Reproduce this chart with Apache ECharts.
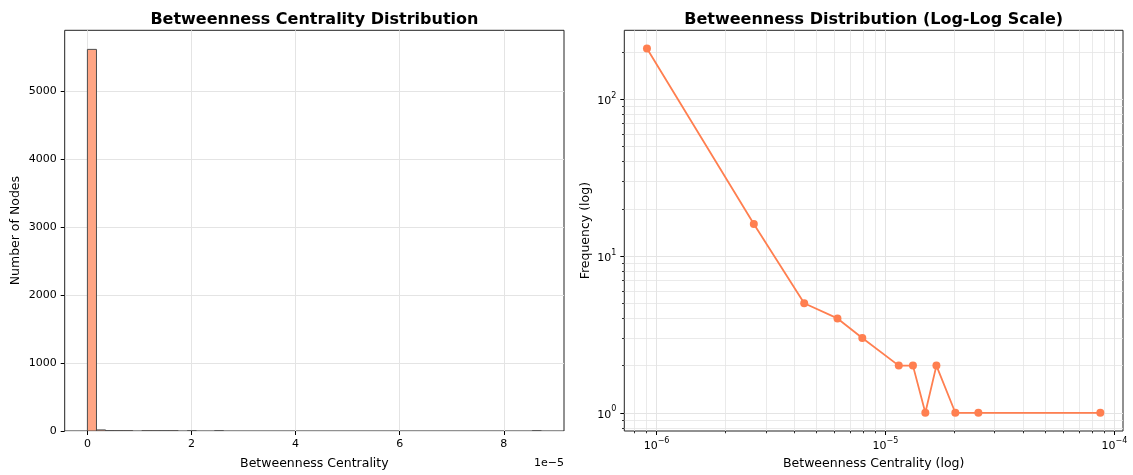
<!DOCTYPE html>
<html>
<head>
<meta charset="utf-8">
<script src="https://cdn.jsdelivr.net/npm/echarts@6/dist/echarts.min.js"></script>
<style>html,body{margin:0;padding:0;background:#fff}#c{width:1133px;height:475px}</style>
</head>
<body>
<div id="c"></div>
<script>
// ---- Data ----
// Left: histogram of betweenness centrality (50 equal bins over histRange)
const histCounts = [5620, 16, 5, 4, 3, 0, 2, 2, 1, 2,
                    0, 1, 0, 0, 1, 0, 0, 0, 0, 0,
                    0, 0, 0, 0, 0, 0, 0, 0, 0, 0,
                    0, 0, 0, 0, 0, 0, 0, 0, 0, 0,
                    0, 0, 0, 0, 0, 0, 0, 0, 0, 1];
const histRange = [0, 8.72e-5];
const histXTicks = [0, 2e-5, 4e-5, 6e-5, 8e-5];
const histYTicks = [0, 1000, 2000, 3000, 4000, 5000];

// Right: log-log distribution (bin centres / frequencies)
const logX = [9.08e-7, 2.66e-6, 4.415e-6, 6.17e-6, 7.92e-6, 1.143e-5, 1.318e-5, 1.493e-5, 1.669e-5, 2.019e-5, 2.545e-5, 8.68e-5];
const logY = [211, 16, 5, 4, 3, 2, 2, 1, 2, 1, 1, 1];
const logXMajor = [1e-6, 1e-5, 1e-4];
const logXMinor = [8e-7, 9e-7, 2e-6, 3e-6, 4e-6, 5e-6, 6e-6, 7e-6, 8e-6, 9e-6,
                   2e-5, 3e-5, 4e-5, 5e-5, 6e-5, 7e-5, 8e-5, 9e-5];
const logYMajor = [1, 10, 100];
const logYMinor = [0.8, 0.9, 2, 3, 4, 5, 6, 7, 8, 9, 20, 30, 40, 50, 60, 70, 80, 90, 200];

// ---- Derived ----
const SCALE = 1e5;
const FONT = 'DejaVu Sans';
const nBins = histCounts.length;
const binW = (histRange[1] - histRange[0]) / nBins;
const histData = histCounts
  .map((c, i) => [(histRange[0] + i * binW) * SCALE, (histRange[0] + (i + 1) * binW) * SCALE, c])
  .filter(d => d[2] > 0);
const hx0 = histRange[0] * SCALE, hx1 = histRange[1] * SCALE;
const hxm = 0.05 * (hx1 - hx0);
const hyMax = Math.max(...histCounts) * 1.05;

const lx0 = Math.log10(Math.min(...logX)), lx1 = Math.log10(Math.max(...logX));
const lxm = 0.05 * (lx1 - lx0);
const ly0 = Math.log10(Math.min(...logY)), ly1 = Math.log10(Math.max(...logY));
const lym = 0.05 * (ly1 - ly0);

function powLabel(v) {
  const e = Math.round(Math.log10(v));
  return '{b|10}{s|' + String(e).replace('-', '\u2212') + '}';
}
const powRich = {
  b: {fontFamily: FONT, fontSize: 11, color: '#000', lineHeight: 15, verticalAlign: 'bottom'},
  s: {fontFamily: FONT, fontSize: 8, color: '#000', lineHeight: 9, verticalAlign: 'top'}
};

const GRID_COLOR = '#e4e4e4';
const tickStyle = {color: '#000', width: 1};
const labelStyle = {fontFamily: FONT, fontSize: 11, color: '#000'};
const nameStyle = {fontFamily: FONT, fontSize: 12.5, color: '#000'};
const titleStyle = {fontFamily: FONT, fontSize: 16, fontWeight: 'bold', color: '#000'};

const chart = echarts.init(document.getElementById('c'), null, {renderer: 'canvas'});
chart.setOption({
  animation: false,
  backgroundColor: '#fff',
  title: [
    {text: 'Betweenness Centrality Distribution', left: 314.4, top: 12, padding: 0, textAlign: 'center', textStyle: titleStyle},
    {text: 'Betweenness Distribution (Log-Log Scale)', left: 873.7, top: 12, padding: 0, textAlign: 'center', textStyle: titleStyle}
  ],
  grid: [
    {left: 64.7, right: 1133 - 564, top: 30.3, bottom: 475 - 435.3, show: true, borderColor: '#222', borderWidth: 1, backgroundColor: 'transparent'},
    {left: 624.3, right: 1133 - 1123, top: 30.3, bottom: 475 - 435.3, show: true, borderColor: '#222', borderWidth: 1, backgroundColor: 'transparent'}
  ],
  xAxis: [
    {gridIndex: 0, type: 'value', position: 'bottom', min: hx0 - hxm, max: hx1 + hxm,
     axisLine: {show: false, onZero: false},
     axisTick: {show: true, length: 4, lineStyle: tickStyle, customValues: histXTicks.map(v => v * SCALE)},
     axisLabel: Object.assign({customValues: histXTicks.map(v => v * SCALE), margin: 8,
       formatter: v => String(Math.round(v))}, labelStyle),
     splitLine: {show: true, lineStyle: {color: GRID_COLOR, width: 1}},
     name: 'Betweenness Centrality', nameLocation: 'middle', nameGap: 26, nameTextStyle: nameStyle},
    {gridIndex: 1, type: 'log', logBase: 10, position: 'bottom',
     min: Math.pow(10, lx0 - lxm), max: Math.pow(10, lx1 + lxm),
     axisLine: {show: false, onZero: false},
     axisTick: {show: true, length: 4, lineStyle: tickStyle, customValues: logXMajor},
     axisLabel: Object.assign({customValues: logXMajor, margin: 6, formatter: v => powLabel(v), rich: powRich}, labelStyle),
     splitLine: {show: true, lineStyle: {color: GRID_COLOR, width: 1}},
     name: 'Betweenness Centrality (log)', nameLocation: 'middle', nameGap: 26, nameTextStyle: nameStyle},
    {gridIndex: 1, type: 'log', logBase: 10, position: 'bottom',
     min: Math.pow(10, lx0 - lxm), max: Math.pow(10, lx1 + lxm),
     axisLine: {show: false, onZero: false},
     axisTick: {show: true, length: 2.3, lineStyle: {color: '#000', width: 0.8}, customValues: logXMinor},
     axisLabel: {show: false},
     splitLine: {show: true, lineStyle: {color: GRID_COLOR, width: 0.8}}}
  ],
  yAxis: [
    {gridIndex: 0, type: 'value', position: 'left', min: 0, max: hyMax,
     axisLine: {show: false, onZero: false},
     axisTick: {show: true, length: 4, lineStyle: tickStyle, customValues: histYTicks},
     axisLabel: Object.assign({customValues: histYTicks, margin: 8, formatter: v => String(Math.round(v))}, labelStyle),
     splitLine: {show: true, lineStyle: {color: GRID_COLOR, width: 1}},
     name: 'Number of Nodes', nameLocation: 'middle', nameGap: 42, nameTextStyle: nameStyle},
    {gridIndex: 1, type: 'log', logBase: 10, position: 'left',
     min: Math.pow(10, ly0 - lym), max: Math.pow(10, ly1 + lym),
     axisLine: {show: false, onZero: false},
     axisTick: {show: true, length: 4, lineStyle: tickStyle, customValues: logYMajor},
     axisLabel: Object.assign({customValues: logYMajor, margin: 8, formatter: v => powLabel(v), rich: powRich}, labelStyle),
     splitLine: {show: true, lineStyle: {color: GRID_COLOR, width: 1}},
     name: 'Frequency (log)', nameLocation: 'middle', nameGap: 32, nameTextStyle: nameStyle},
    {gridIndex: 1, type: 'log', logBase: 10, position: 'left',
     min: Math.pow(10, ly0 - lym), max: Math.pow(10, ly1 + lym),
     axisLine: {show: false, onZero: false},
     axisTick: {show: true, length: 2.3, lineStyle: {color: '#000', width: 0.8}, customValues: logYMinor},
     axisLabel: {show: false},
     splitLine: {show: true, lineStyle: {color: GRID_COLOR, width: 0.8}}}
  ],
  graphic: [
    {type: 'text', right: 1133 - 564, top: 458,
     style: {text: '1e\u22125', font: '11px "DejaVu Sans"', fill: '#000'}}
  ],
  series: [
    {type: 'custom', xAxisIndex: 0, yAxisIndex: 0, clip: true,
     encode: {x: [0, 1], y: 2},
     data: histData,
     renderItem: function (params, api) {
       const p0 = api.coord([api.value(0), api.value(2)]);
       const p1 = api.coord([api.value(1), 0]);
       return {type: 'rect',
               shape: {x: p0[0], y: p0[1], width: p1[0] - p0[0], height: p1[1] - p0[1]},
               style: {fill: '#FFA584', stroke: '#4d4d4d', lineWidth: 1}};
     }},
    {type: 'line', xAxisIndex: 1, yAxisIndex: 1,
     data: logX.map((x, i) => [x, logY[i]]),
     symbol: 'circle', symbolSize: 8, showSymbol: true,
     lineStyle: {color: '#FF7F50', width: 1.8},
     itemStyle: {color: '#FF7F50'}}
  ]
});
</script>
</body>
</html>
